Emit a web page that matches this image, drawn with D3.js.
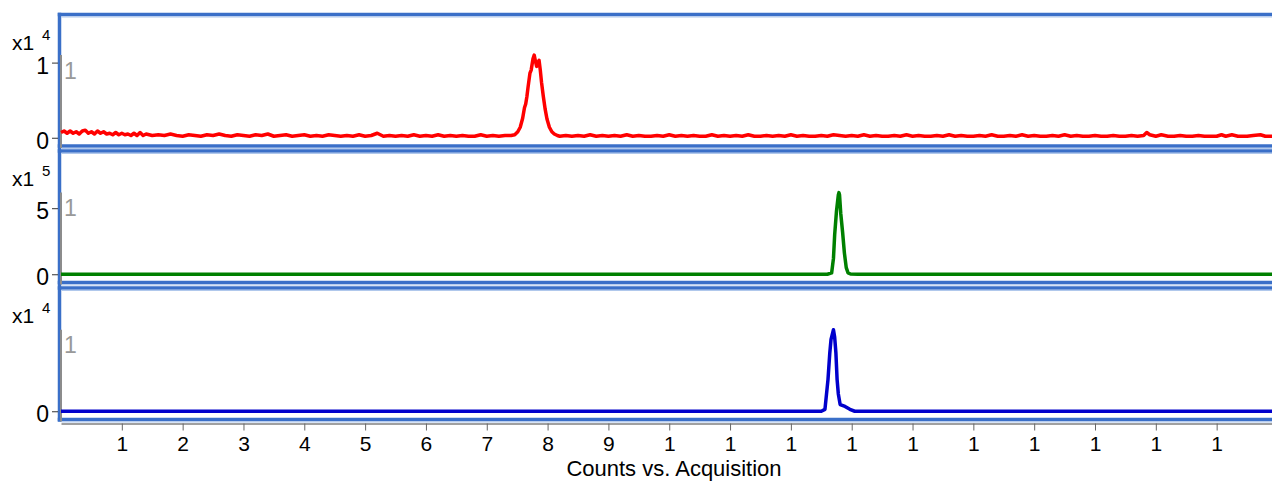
<!DOCTYPE html>
<html><head><meta charset="utf-8">
<script src="https://cdn.jsdelivr.net/npm/d3@7"></script>
<style>body{margin:0;background:#fff}svg{display:block}text{font-family:"Liberation Sans",Arial,sans-serif}</style>
</head><body><svg id="c" width="1272" height="481"></svg>
<script>
// ---- data ----
const xDomain = [0, 19.91];
const xTickValues = [1,2,3,4,5,6,7,8,9,10,11,12,13,14,15,16,17,18,19];
const xTickLabels = ["1","2","3","4","5","6","7","8","9","1","1","1","1","1","1","1","1","1","1"];
const xTitle = "Counts vs. Acquisition";

const redSeries = [
[0,0.07],[0.05,0.09],[0.1,0.06],[0.15,0.09],[0.2,0.06],[0.25,0.08],[0.3,0.05],[0.35,0.09],[0.4,0.10],[0.45,0.06],
[0.5,0.08],[0.55,0.05],[0.6,0.09],[0.65,0.06],[0.7,0.08],[0.75,0.05],[0.8,0.06],[0.85,0.04],[0.9,0.07],[0.95,0.04],
[1.0,0.06],[1.05,0.04],[1.1,0.05],[1.15,0.03],[1.2,0.06],[1.25,0.03],[1.3,0.07],[1.35,0.03],[1.4,0.05],[1.5,0.03],
[1.6,0.04],[1.7,0.03],[1.8,0.05],[1.9,0.03],
[2.0,0.02],[2.1,0.04],[2.2,0.03],[2.3,0.02],[2.4,0.04],[2.5,0.03],[2.6,0.05],[2.7,0.03],[2.8,0.02],[2.9,0.04],
[3.0,0.03],[3.1,0.02],[3.2,0.04],[3.3,0.03],[3.4,0.05],[3.5,0.02],[3.6,0.03],[3.7,0.04],[3.8,0.02],[3.9,0.03],
[4.0,0.04],[4.1,0.02],[4.2,0.03],[4.3,0.02],[4.4,0.04],[4.5,0.03],[4.6,0.02],[4.7,0.03],[4.8,0.02],[4.9,0.04],
[5.0,0.02],[5.1,0.03],[5.2,0.06],[5.3,0.02],[5.4,0.03],[5.5,0.02],[5.6,0.03],[5.7,0.02],[5.8,0.04],[5.9,0.02],
[6.0,0.03],[6.1,0.02],[6.2,0.04],[6.3,0.02],[6.4,0.03],[6.5,0.02],[6.6,0.03],[6.7,0.02],[6.8,0.02],[6.9,0.04],
[7.0,0.02],[7.1,0.03],[7.2,0.02],[7.3,0.03],[7.4,0.03],[7.46,0.04],[7.51,0.08],[7.55,0.14],[7.59,0.26],[7.62,0.40],
[7.64,0.45],[7.66,0.55],[7.68,0.68],[7.71,0.86],[7.73,0.90],[7.76,1.05],[7.78,1.10],[7.80,1.02],[7.82,0.95],[7.84,1.00],[7.86,1.03],
[7.88,0.90],[7.90,0.74],[7.93,0.55],[7.96,0.38],[7.99,0.25],[8.03,0.14],[8.07,0.08],[8.11,0.05],[8.16,0.03],
[8.2,0.02],[8.3,0.03],[8.4,0.02],[8.5,0.03],[8.6,0.02],[8.7,0.04],[8.8,0.02],[8.9,0.03],[9.0,0.02],[9.1,0.03],
[9.2,0.02],[9.3,0.04],[9.4,0.02],[9.5,0.03],[9.6,0.02],[9.7,0.02],[9.8,0.03],[9.9,0.02],[10.0,0.04],[10.1,0.02],
[10.2,0.03],[10.3,0.02],[10.4,0.03],[10.5,0.02],[10.6,0.02],[10.7,0.04],[10.8,0.02],[10.9,0.03],[11.0,0.02],[11.1,0.03],
[11.2,0.02],[11.3,0.04],[11.4,0.02],[11.5,0.02],[11.6,0.03],[11.7,0.02],[11.8,0.03],[11.9,0.02],[12.0,0.04],[12.1,0.02],
[12.2,0.03],[12.3,0.02],[12.4,0.02],[12.5,0.03],[12.6,0.02],[12.7,0.04],[12.8,0.03],[12.9,0.02],[13.0,0.03],[13.1,0.02],
[13.2,0.04],[13.3,0.02],[13.4,0.03],[13.5,0.02],[13.6,0.02],[13.7,0.03],[13.8,0.02],[13.9,0.04],[14.0,0.02],[14.1,0.03],
[14.2,0.02],[14.3,0.02],[14.4,0.03],[14.5,0.02],[14.6,0.04],[14.7,0.02],[14.8,0.03],[14.9,0.02],[15.0,0.02],[15.1,0.03],
[15.2,0.02],[15.3,0.04],[15.4,0.02],[15.5,0.02],[15.6,0.03],[15.7,0.02],[15.8,0.04],[15.9,0.02],[16.0,0.03],[16.1,0.02],
[16.2,0.02],[16.3,0.03],[16.4,0.02],[16.5,0.04],[16.6,0.02],[16.7,0.03],[16.8,0.02],[16.9,0.02],[17.0,0.03],[17.1,0.02],
[17.2,0.02],[17.3,0.03],[17.4,0.02],[17.5,0.02],[17.6,0.03],[17.7,0.02],[17.8,0.03],[17.85,0.07],[17.9,0.04],[18.0,0.02],
[18.09,0.04],[18.2,0.02],[18.3,0.02],[18.4,0.03],[18.5,0.02],[18.6,0.02],[18.7,0.03],[18.8,0.02],[18.9,0.02],[19.0,0.02],
[19.08,0.04],[19.15,0.02],[19.25,0.04],[19.35,0.02],[19.5,0.02],[19.6,0.03],[19.72,0.04],[19.8,0.02],[19.91,0.02]
];
const greenSeries = [
[0,0],[12.6,0],[12.67,0.1],[12.70,1.2],[12.72,3.0],[12.75,4.8],[12.78,6.0],[12.79,6.18],[12.80,6.0],
[12.82,4.6],[12.85,3.2],[12.88,1.6],[12.91,0.5],[12.94,0.1],[12.98,0.02],[13.1,0],[19.91,0]
];
const blueSeries = [
[0,0],[12.5,0],[12.56,0.02],[12.61,0.33],[12.64,0.61],[12.66,0.75],[12.70,0.85],[12.72,0.77],[12.74,0.61],
[12.76,0.33],[12.78,0.18],[12.81,0.07],[12.89,0.05],[12.97,0.02],[13.05,0],[19.91,0]
];
const seriesList = [redSeries, greenSeries, blueSeries];
const seriesColors = ["#ff0000", "#008000", "#0000cc"];
const yDomainMax = [1.64, 9.33, 1.285];
const yTickValues = [[0, 1], [0, 5], [0]];
const yTickLabels = [["0", "1"], ["0", "5"], ["0"]];
const multBase = ["x1", "x1", "x1"];
const multExp = ["4", "5", "4"];
const panelNotes = ["1", "1", "1"];

// ---- layout ----
const W = 1272, plotLeft = 61;
const panelTops = [14.5, 151, 288];
const panelH = 131.5;
const borderBlue = "#3a6fc8", borderLight = "#b0c8ec";
const FONT = "Liberation Sans, Arial, sans-serif";

const svg = d3.select("#c");
const x = d3.scaleLinear().domain(xDomain).range([plotLeft, W]);

svg.append("line").attr("x1", 59.5).attr("x2", 59.5).attr("y1", 12.75).attr("y2", 421.8)
  .attr("stroke", borderBlue).attr("stroke-width", 3.5);

panelTops.forEach((top, i) => {
  const bottom = top + panelH;
  const zeroY = bottom - 8.25;
  const y = d3.scaleLinear().domain([0, yDomainMax[i]]).range([zeroY, top]);
  const g = svg.append("g");

  [top, bottom].forEach(yy => {
    g.append("line").attr("x1", 57.75).attr("x2", W).attr("y1", yy).attr("y2", yy)
      .attr("stroke", borderBlue).attr("stroke-width", 3.5);
    g.append("line").attr("x1", 61.5).attr("x2", W).attr("y1", yy + 2.4).attr("y2", yy + 2.4)
      .attr("stroke", borderLight).attr("stroke-width", 1.3);
  });

  const dataMax = d3.max(seriesList[i], d => d[1]);
  g.append("line").attr("x1", 61).attr("x2", 61).attr("y1", y(dataMax)).attr("y2", bottom + 2)
    .attr("stroke", "#8c8c8c").attr("stroke-width", 2);

  const ax = d3.axisLeft(y).tickValues(yTickValues[i])
    .tickFormat((d, j) => yTickLabels[i][j]).tickSize(6).tickPadding(3);
  const ag = g.append("g").attr("transform", "translate(58,0)").call(ax);
  ag.select(".domain").remove();
  ag.selectAll(".tick line").attr("stroke", "#333");
  ag.selectAll(".tick text").attr("font-size", 23).attr("fill", "#000")
    .attr("font-family", FONT).attr("dy", "0.46em");

  g.append("text").attr("x", 12).attr("y", top + 35).attr("font-size", 21).text(multBase[i]);
  g.append("text").attr("x", 42).attr("y", top + 25).attr("font-size", 15).text(multExp[i]);

  g.append("text").attr("x", 64).attr("y", top + 64.5).attr("font-size", 23)
    .attr("fill", "#999").text(panelNotes[i]);

  const line = d3.line().x(d => x(d[0])).y(d => y(d[1]));
  g.append("path").datum(seriesList[i]).attr("d", line).attr("fill", "none")
    .attr("stroke", seriesColors[i]).attr("stroke-width", 3.5).attr("stroke-linejoin", "round");
});

const xa = d3.axisBottom(x).tickValues(xTickValues).tickFormat((d, i) => xTickLabels[i])
  .tickSize(7).tickSizeOuter(0);
const xg = svg.append("g").attr("transform", "translate(0,423.5)").call(xa);
xg.select(".domain").attr("stroke", "#808080").attr("stroke-width", 1.5);
xg.selectAll(".tick line").attr("stroke", "#666");
xg.selectAll(".tick text").attr("font-size", 21).attr("fill", "#000").attr("y", 13)
  .attr("font-family", FONT);

svg.append("text").attr("x", 674).attr("y", 476).attr("text-anchor", "middle")
  .attr("font-size", 22).text(xTitle);
</script></body></html>
